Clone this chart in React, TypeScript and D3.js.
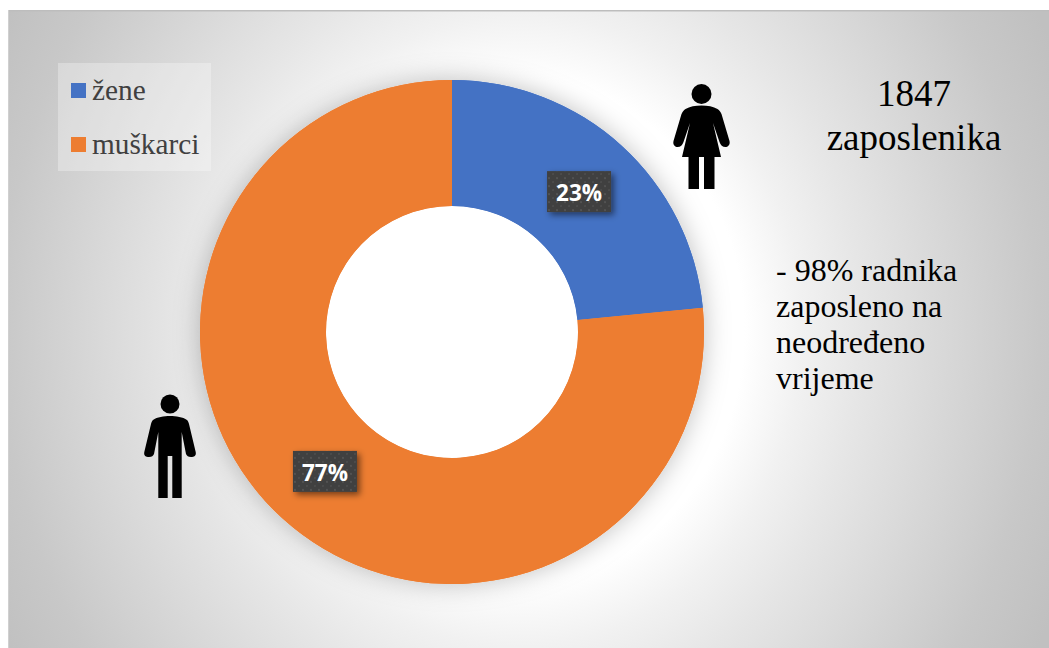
import React from "react";
import * as d3 from "d3";

const categories = ["žene", "muškarci"];
const shares = [23.47, 76.53];
const colors = ["#4472c4", "#ed7d31"];
const headline = ["1847", "zaposlenika"];
const note = ["- 98% radnika", "zaposleno na", "neodređeno", "vrijeme"];

const womanBody =
  "M0 11.5 C-6 11.5 -12 12.5 -16 15 C-18 16 -19 18 -20 20 L-28 47 C-29 51 -26 53 -24 53 C-21 53 -19 51 -18 48 L-11.5 29 L-19.5 63 L-13 63 L-13 95 L-2.5 95 L-2.5 63 L2.5 63 L2.5 95 L13 95 L13 63 L19.5 63 L11.5 29 L18 48 C19 51 21 53 24 53 C26 53 29 51 28 47 L20 20 C19 18 18 16 16 15 C12 12.5 6 11.5 0 11.5 Z";
const manBody =
  "M0 12 C-6 12 -13 13 -17 16 C-18 17 -18.5 18 -19 20 L-25.7 48 C-26.5 52 -24 53 -21 53 C-18 53 -17 52 -16 50 L-11.7 28 L-11.7 94 L-2.3 94 L-2.3 52 L2.3 52 L2.3 94 L11.7 94 L11.7 28 L16 50 C17 52 18 53 21 53 C24 53 26.5 52 25.7 48 L19 20 C18.5 18 18 17 17 16 C13 13 6 12 0 12 Z";

const W = 1049;
const H = 648;

export default function App() {
  const pie = d3.pie<number>().sort(null).value((d) => d);
  const arc = d3.arc<d3.PieArcDatum<number>>().innerRadius(126).outerRadius(252);
  const hole = d3.arc<any>().innerRadius(0).outerRadius(126).startAngle(0).endAngle(2 * Math.PI);
  const arcs = pie(shares);
  return (
    <svg
      width={W}
      height={H}
      style={{ position: "absolute", left: 0, top: 0, display: "block" }}
    >
      <defs>
        <radialGradient
          id="bg"
          gradientUnits="userSpaceOnUse"
          cx={0}
          cy={0}
          r={1}
          gradientTransform="translate(520,330) scale(590,660)"
        >
          <stop offset="0" stopColor="#ffffff" />
          <stop offset="0.38" stopColor="#ffffff" />
          <stop offset="0.48" stopColor="#f1f1f1" />
          <stop offset="0.58" stopColor="#e6e6e6" />
          <stop offset="0.88" stopColor="#c8c8c8" />
          <stop offset="1" stopColor="#c0c0c0" />
        </radialGradient>
        <filter id="ringShadow" x="-25%" y="-25%" width="150%" height="150%">
          <feDropShadow dx="0" dy="0" stdDeviation="13" floodColor="#000" floodOpacity="0.25" />
        </filter>
        <filter id="boxShadow" x="-40%" y="-40%" width="180%" height="180%">
          <feDropShadow dx="3" dy="3" stdDeviation="3" floodColor="#000" floodOpacity="0.5" />
        </filter>
        <pattern id="dots" width="8" height="8" patternUnits="userSpaceOnUse">
          <rect width="8" height="8" fill="#404040" />
          <rect x="1" y="1" width="2" height="2" fill="#525252" />
          <rect x="5" y="5" width="2" height="2" fill="#4c4c4c" />
        </pattern>
      </defs>
      <rect x={8} y={11} width={W - 8} height={H - 11} fill="url(#bg)" />
      <rect x={8} y={10} width={W - 8} height={1.5} fill="#bdbdbd" />
      <rect x={8} y={10} width={1} height={H - 10} fill="#d0d0d0" />

      <g transform="translate(452,332)">
        <g filter="url(#ringShadow)">
          {arcs.map((a, i) => (
            <path key={categories[i]} d={arc(a) ?? ""} fill={colors[i]} />
          ))}
        </g>
        <path d={hole({}) ?? ""} fill="#fff" />
        {arcs.map((a, i) => (
          <path key={categories[i]} d={arc(a) ?? ""} fill={colors[i]} />
        ))}
        {arcs.map((a, i) => {
          const [cx, cy] = arc.centroid(a);
          return (
            <g key={categories[i]} transform={`translate(${cx},${cy})`}>
              <rect x={-32} y={-21} width={64} height={41} fill="url(#dots)" filter="url(#boxShadow)" />
              <text
                y={9}
                textAnchor="middle"
                fontFamily="'Open Sans', sans-serif"
                fontWeight={700}
                fontSize={22.5}
                fill="#fff"
              >
                {Math.round(shares[i])}%
              </text>
            </g>
          );
        })}
      </g>

      <rect x={58} y={63} width={153} height={108} fill="#fff" fillOpacity={0.3} />
      {categories.map((c, i) => (
        <g key={c} transform={`translate(71,${83 + i * 54})`}>
          <rect width={15} height={15} fill={colors[i]} />
          <text x={21} y={17} fontFamily="'Liberation Serif', serif" fontSize={29.3} fill="#404040">
            {c}
          </text>
        </g>
      ))}

      <g transform="translate(701.5,94)">
        <circle r={10} />
        <path d={womanBody} />
      </g>
      <g transform="translate(170,404)">
        <circle r={9.5} />
        <path d={manBody} />
      </g>

      {headline.map((t, i) => (
        <text
          key={t}
          x={914}
          y={106 + i * 44}
          textAnchor="middle"
          fontFamily="'Liberation Serif', serif"
          fontSize={37}
          fill="#000"
        >
          {t}
        </text>
      ))}
      {note.map((t, i) => (
        <text
          key={t}
          x={776}
          y={281 + i * 36}
          fontFamily="'Liberation Serif', serif"
          fontSize={32}
          fill="#000"
        >
          {t}
        </text>
      ))}
    </svg>
  );
}
